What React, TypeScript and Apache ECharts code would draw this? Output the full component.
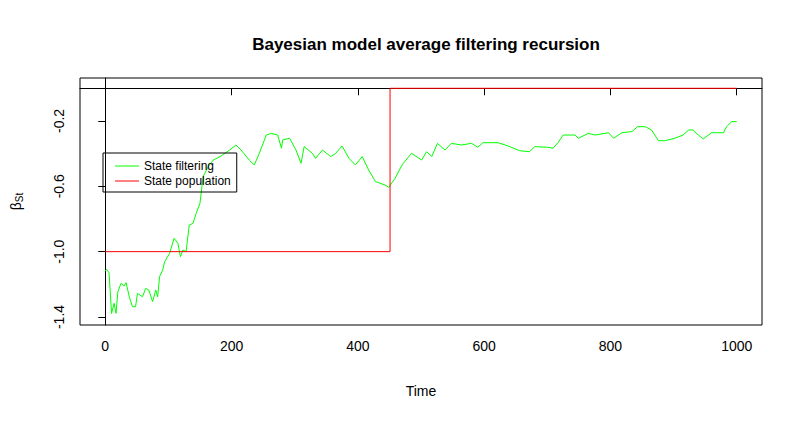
import { useEffect, useRef } from "react";
import * as echarts from "echarts";

const filterTime = [0, 2, 6, 10, 14, 17, 20, 25, 30, 33, 38, 43, 48, 51, 59, 64, 69, 75, 80, 83, 86, 91, 94, 102, 109, 115, 119, 123, 128, 133, 139, 144, 150, 155, 163, 171, 182, 197, 207, 215, 228, 236, 244, 255, 263, 273, 279, 281, 292, 302, 310, 315, 328, 333, 344, 357, 365, 375, 386, 396, 407, 417, 428, 443, 449, 459, 470, 485, 501, 509, 517, 526, 538, 548, 564, 580, 590, 598, 622, 638, 656, 672, 680, 701, 709, 717, 725, 744, 749, 765, 776, 797, 805, 818, 834, 843, 855, 865, 876, 886, 902, 915, 924, 931, 939, 947, 960, 979, 984, 992, 1000];
const filterValue = [-1.12, -1.108, -1.13, -1.378, -1.316, -1.378, -1.245, -1.194, -1.21, -1.19, -1.276, -1.337, -1.337, -1.255, -1.276, -1.225, -1.235, -1.306, -1.235, -1.276, -1.153, -1.112, -1.062, -1.01, -0.918, -0.949, -1.031, -0.99, -1.0, -0.837, -0.827, -0.765, -0.704, -0.541, -0.48, -0.439, -0.418, -0.378, -0.347, -0.378, -0.439, -0.469, -0.398, -0.286, -0.276, -0.286, -0.367, -0.316, -0.306, -0.378, -0.459, -0.357, -0.398, -0.429, -0.378, -0.418, -0.398, -0.353, -0.429, -0.469, -0.418, -0.5, -0.571, -0.592, -0.606, -0.551, -0.469, -0.398, -0.439, -0.388, -0.418, -0.337, -0.378, -0.337, -0.347, -0.337, -0.361, -0.333, -0.333, -0.353, -0.382, -0.388, -0.357, -0.361, -0.367, -0.333, -0.286, -0.286, -0.306, -0.276, -0.286, -0.272, -0.306, -0.272, -0.265, -0.235, -0.235, -0.255, -0.321, -0.321, -0.306, -0.286, -0.255, -0.255, -0.286, -0.31, -0.272, -0.272, -0.235, -0.204, -0.204];
const popTime = [0, 451, 451, 1000];
const popValue = [-1.0, -1.0, 0.0, 0.0];
const xTicks = [0, 200, 400, 600, 800, 1000];
const yTicks = [-1.4, -1.0, -0.6, -0.2];

const font = "Liberation Sans, Arial, sans-serif";

export default function App() {
  const ref = useRef<HTMLDivElement>(null);

  useEffect(() => {
    if (!ref.current) return;
    const chart = echarts.init(ref.current, undefined, { renderer: "svg" });
    chart.setOption({
      animation: false,
      backgroundColor: "#fff",
      textStyle: { fontFamily: font },
      title: {
        text: "Bayesian model average filtering recursion",
        left: 421,
        top: 31,
        textAlign: "center",
        textStyle: { fontSize: 17, fontWeight: "bold", color: "#000", fontFamily: font },
      },
      legend: {
        left: 103,
        top: 153,
        orient: "vertical",
        borderColor: "#000",
        borderWidth: 1,
        borderRadius: 0,
        padding: [7, 6, 5, 12],
        itemGap: 3,
        itemWidth: 24,
        itemHeight: 1,
        icon: "rect",
        textStyle: { fontSize: 12, color: "#000", fontFamily: font },
        data: ["State filtering", "State population"],
      },
      grid: {
        left: 80,
        right: 40,
        top: 78,
        bottom: 97,
        show: true,
        borderColor: "#000",
        borderWidth: 1,
      },
      xAxis: {
        type: "value",
        position: "bottom",
        min: -40,
        max: 1040,
        name: "Time",
        nameLocation: "middle",
        nameGap: 59,
        nameTextStyle: { fontSize: 14, color: "#000" },
        splitLine: { show: false },
        axisLine: { show: true, lineStyle: { color: "#000" } },
        axisTick: { show: true, inside: false, length: 7, customValues: xTicks, lineStyle: { color: "#000" } },
        axisLabel: { customValues: xTicks, fontSize: 14, color: "#000", margin: 14, formatter: (v: number) => String(v) },
      },
      yAxis: {
        type: "value",
        position: "left",
        min: -1.449,
        max: 0.063,
        name: "{b|β}{s|St}",
        nameLocation: "middle",
        nameGap: 56,
        nameRotate: 90,
        nameTextStyle: {
          rich: {
            b: { fontSize: 14, color: "#000", fontFamily: font },
            s: { fontSize: 10, color: "#000", fontFamily: font, verticalAlign: "bottom", padding: [6, 0, 0, 0] },
          },
        },
        splitLine: { show: false },
        axisLine: { show: true, lineStyle: { color: "#000" } },
        axisTick: { show: true, inside: false, length: 7, customValues: yTicks, lineStyle: { color: "#000" } },
        axisLabel: {
          customValues: yTicks,
          rotate: 90,
          fontSize: 14,
          color: "#000",
          margin: 14,
          formatter: (v: number) => v.toFixed(1),
        },
      },
      series: [
        {
          name: "State filtering",
          type: "line",
          showSymbol: false,
          color: "#00ff00",
          lineStyle: { width: 1, color: "#00ff00" },
          data: filterTime.map((t, i) => [t, filterValue[i]]),
        },
        {
          name: "State population",
          type: "line",
          showSymbol: false,
          color: "#ff0000",
          lineStyle: { width: 1, color: "#ff0000" },
          data: popTime.map((t, i) => [t, popValue[i]]),
        },
      ],
    });
    return () => chart.dispose();
  }, []);

  return (
    <div
      ref={ref}
      style={{ position: "absolute", left: 0, top: 0, width: "802px", height: "422px" }}
    />
  );
}
